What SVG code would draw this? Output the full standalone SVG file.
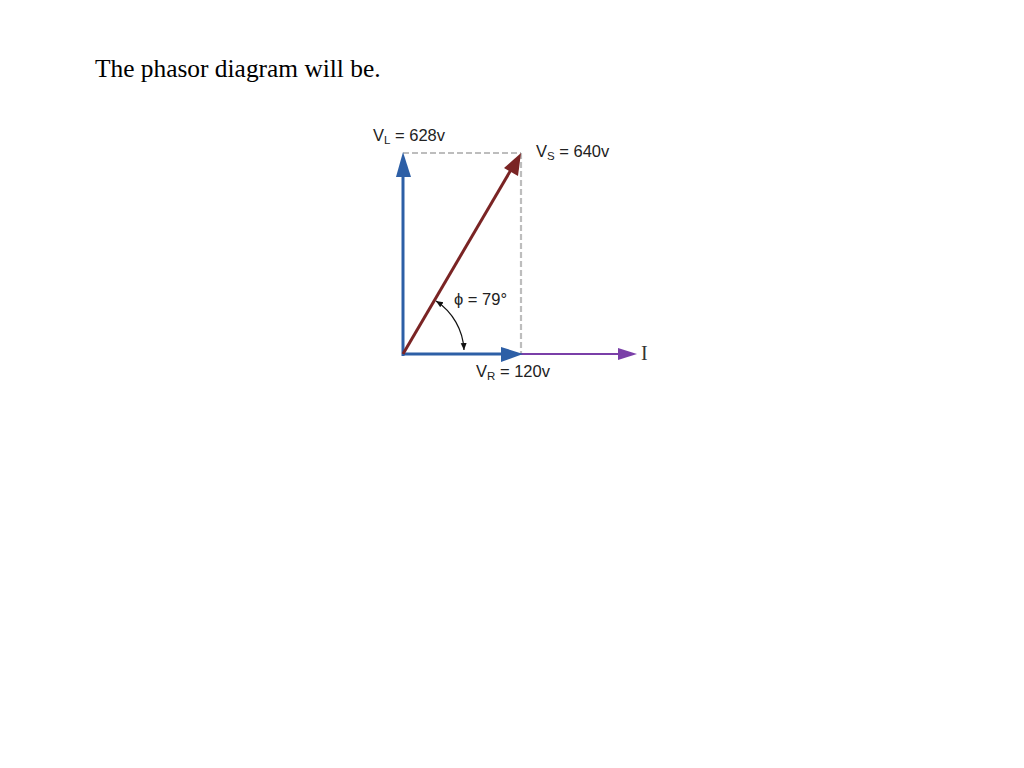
<svg xmlns="http://www.w3.org/2000/svg" width="1024" height="768" viewBox="0 0 1024 768">
<style>
.title{font-family:"Liberation Serif","Times New Roman",serif;font-size:25.4px;fill:#000}
.lbl{font-family:"Liberation Sans",Arial,sans-serif;font-size:16.5px;fill:#222}
.sub{font-size:11.5px}
.dash{stroke:#bdbdbd;stroke-width:2.2;stroke-dasharray:6,3;fill:none}
</style>
<defs>
<marker id="ah" markerWidth="8" markerHeight="8" refX="7" refY="4" orient="auto" markerUnits="userSpaceOnUse">
<path d="M0,1 L7,4 L0,7 Z" fill="#111"/>
</marker>
<marker id="ahs" markerWidth="8" markerHeight="8" refX="7" refY="4" orient="auto-start-reverse" markerUnits="userSpaceOnUse">
<path d="M0,1 L7,4 L0,7 Z" fill="#111"/>
</marker>
</defs>
<rect width="1024" height="768" fill="#fff"/>
<text class="title" x="95" y="77">The phasor diagram will be.</text>
<g id="guides">
<line class="dash" x1="403" y1="153" x2="521" y2="153"/>
<line class="dash" x1="521" y1="153" x2="521" y2="354"/>
</g>
<g id="connectors">
<g id="I-axis">
<line x1="520" y1="354" x2="620" y2="354" stroke="#7a3fa8" stroke-width="2.2"/>
<path d="M637,354 L618,348 L618,360 Z" fill="#7a3fa8"/>
</g>
<g id="VL">
<line x1="403" y1="356" x2="403" y2="174" stroke="#2d5fa6" stroke-width="3"/>
<path d="M403,152 L396,177 L411,177 Z" fill="#2d5fa6"/>
</g>
<g id="VR">
<line x1="402" y1="354" x2="504" y2="354" stroke="#2d5fa6" stroke-width="3"/>
<path d="M523,354 L501,347 L501,362 Z" fill="#2d5fa6"/>
</g>
<g id="VS">
<line x1="403" y1="354" x2="512" y2="168" stroke="#7a2424" stroke-width="3"/>
<path d="M521,153 L518,176 L504,168 Z" fill="#7a2424"/>
</g>
<g id="phi-arc">
<path d="M436,301 A62,62 0 0 1 464,350" fill="none" stroke="#111" stroke-width="1.2" marker-start="url(#ahs)" marker-end="url(#ah)"/>
</g>
</g>
<g id="label-VL"><text class="lbl" x="373" y="141">V<tspan class="sub" dy="3">L</tspan><tspan dy="-3"> = 628v</tspan></text></g>
<g id="label-VS"><text class="lbl" x="536" y="157">V<tspan class="sub" dy="3">S</tspan><tspan dy="-3"> = 640v</tspan></text></g>
<g id="label-phi"><text class="lbl" x="454" y="305">ϕ = 79°</text></g>
<g id="label-VR"><text class="lbl" x="476" y="377">V<tspan class="sub" dy="3">R</tspan><tspan dy="-3"> = 120v</tspan></text></g>
<g id="label-I"><text x="641" y="360" style="font-family:'Liberation Serif','Times New Roman',serif;font-size:20px;fill:#333">I</text></g>
</svg>
